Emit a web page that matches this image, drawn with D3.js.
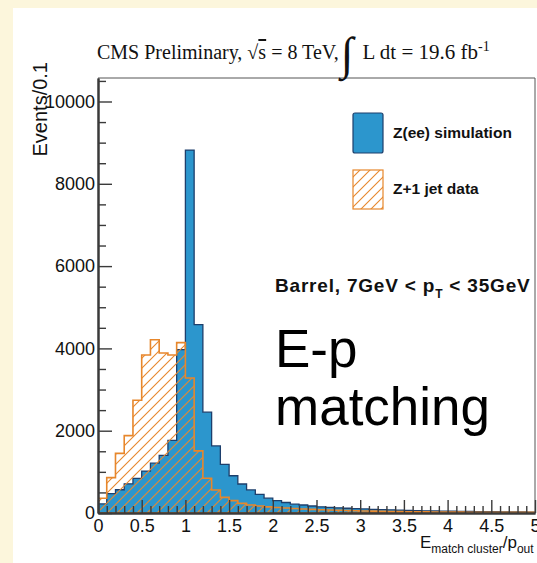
<!DOCTYPE html>
<html>
<head>
<meta charset="utf-8">
<script src="https://cdn.jsdelivr.net/npm/d3@7"></script>
<style>
  html, body { margin: 0; padding: 0; background: #fcf6dc; }
  svg { display: block; }
</style>
</head>
<body>
<svg id="chart" width="537" height="563"></svg>
<script>
// Histogram binning: 50 bins of width 0.1 from 0 to 5
const binEdges = d3.range(0, 51).map(i => +(i * 0.1).toFixed(1));

// Z(ee) simulation, events per bin
const simValues = [
  220, 470, 565, 710, 840, 1020, 1210, 1400, 1765, 3970,
  8820, 4580, 2450, 1630, 1180, 905, 705, 560, 455, 360,
  300, 255, 215, 195, 170, 150, 138, 125, 115, 105,
  98, 90, 82, 76, 70, 64, 58, 54, 50, 46,
  42, 39, 36, 34, 32, 30, 28, 26, 24, 23
];

// Z+1 jet data, events per bin
const dataValues = [
  360, 860, 1450, 1880, 2740, 3840, 4210, 3890, 3840, 4140,
  3280, 1510, 845, 560, 380, 300, 235, 195, 170, 150,
  135, 120, 108, 97, 88, 80, 72, 66, 60, 55,
  50, 46, 42, 38, 35, 32, 30, 28, 26, 24,
  22, 21, 20, 19, 18, 17, 16, 15, 15, 14
];

const xMajorTicks = [0, 0.5, 1, 1.5, 2, 2.5, 3, 3.5, 4, 4.5, 5];
const xTickLabels = ["0", "0.5", "1", "1.5", "2", "2.5", "3", "3.5", "4", "4.5", "5"];
const yMajorTicks = [0, 2000, 4000, 6000, 8000, 10000];
const yTickLabels = ["0", "2000", "4000", "6000", "8000", "10000"];
const seriesNames = ["Z(ee) simulation", "Z+1 jet data"];

const blue = "#2c96cd", blueEdge = "#1d3f6c";
const orange = "#e7872c";

const svg = d3.select("#chart");

// white canvas panel
svg.append("rect").attr("x", 13).attr("y", 8).attr("width", 537).attr("height", 563).attr("fill", "#fff");

const x = d3.scaleLinear().domain([0, 5]).range([98, 535]);
const y = d3.scaleLinear().domain([0, 10571]).range([513, 78]);

// hatch pattern for the data histogram
const defs = svg.append("defs");
const pat = defs.append("pattern").attr("id", "hatch")
  .attr("patternUnits", "userSpaceOnUse").attr("width", 10).attr("height", 10);
pat.append("path").attr("d", "M-1,11 L11,-1 M-1,1 L1,-1 M9,11 L11,9")
  .attr("stroke", orange).attr("stroke-width", 1.1).attr("fill", "none");

defs.append("clipPath").attr("id", "plotclip").append("rect")
  .attr("x", x(0)).attr("y", y.range()[1]).attr("width", x(5) - x(0)).attr("height", y(0) - y.range()[1]);

function binsOf(vals) {
  const pts = vals.map((v, i) => ({ x0: binEdges[i], v }));
  pts.push({ x0: binEdges[binEdges.length - 1], v: vals[vals.length - 1] });
  return pts;
}

const area = d3.area().curve(d3.curveStepAfter)
  .x(d => x(d.x0)).y0(y(0)).y1(d => y(d.v));

const plot = svg.append("g").attr("clip-path", "url(#plotclip)");

plot.append("path").datum(binsOf(simValues))
  .attr("d", area).attr("fill", blue)
  .attr("stroke", blueEdge).attr("stroke-width", 1.3).attr("stroke-linejoin", "miter");

plot.append("path").datum(binsOf(dataValues))
  .attr("d", area).attr("fill", "url(#hatch)")
  .attr("stroke", orange).attr("stroke-width", 1.6).attr("stroke-linejoin", "miter");

// frame
svg.append("path")
  .attr("d", `M${x(0)},${y.range()[1]} H${x(5)} V${y(0)}`)
  .attr("fill", "none").attr("stroke", "#555").attr("stroke-width", 1);

const axisColor = "#3a3a3a";
const fontSans = "'Liberation Sans', Arial, Helvetica, sans-serif";

function styleAxis(g) {
  g.select(".domain").attr("stroke", axisColor).attr("stroke-width", 2);
  g.selectAll(".tick line").attr("stroke", axisColor).attr("stroke-width", 1.4);
  g.selectAll(".tick text").attr("fill", "#111").attr("font-family", fontSans).attr("font-size", 18);
}

// y axis: major + minor ticks pointing inwards
const yMinor = d3.range(0, 10600, 500).filter(v => v % 2000 !== 0);
svg.append("g").attr("transform", `translate(${x(0)},0)`)
  .call(d3.axisLeft(y).tickValues(yMinor).tickSizeInner(-8).tickSizeOuter(0).tickFormat(""))
  .call(styleAxis);
svg.append("g").attr("transform", `translate(${x(0)},0)`)
  .call(d3.axisLeft(y).tickValues(yMajorTicks).tickSizeInner(-14).tickSizeOuter(0).tickPadding(3)
    .tickFormat((d, i) => yTickLabels[i]))
  .call(styleAxis);

// x axis
const xMinor = binEdges.filter(v => Math.round(v * 10) % 5 !== 0);
svg.append("g").attr("transform", `translate(0,${y(0)})`)
  .call(d3.axisBottom(x).tickValues(xMinor).tickSizeInner(-7).tickSizeOuter(0).tickFormat(""))
  .call(styleAxis);
svg.append("g").attr("transform", `translate(0,${y(0)})`)
  .call(d3.axisBottom(x).tickValues(xMajorTicks).tickSizeInner(-13).tickSizeOuter(0).tickPadding(6)
    .tickFormat((d, i) => xTickLabels[i]))
  .call(styleAxis);

// axis titles
svg.append("text")
  .attr("transform", "translate(47,62) rotate(-90)")
  .attr("text-anchor", "end")
  .attr("font-family", fontSans).attr("font-size", 20).attr("fill", "#111")
  .text("Events/0.1");

const xt = svg.append("text")
  .attr("x", 420).attr("y", 548)
  .attr("font-family", fontSans).attr("font-size", 17).attr("fill", "#111");
xt.append("tspan").text("E");
xt.append("tspan").attr("font-size", 12).attr("dy", 5).text("match cluster");
xt.append("tspan").attr("dy", -5).text("/p");
xt.append("tspan").attr("font-size", 12).attr("dy", 5).text("out");

// header
const title = svg.append("text")
  .attr("x", 97).attr("y", 59)
  .attr("font-family", "'Liberation Serif', 'Times New Roman', serif").attr("font-size", 20).attr("fill", "#111");
title.append("tspan").text("CMS Preliminary, \u221A");
title.append("tspan").attr("text-decoration", "overline").text("s");
title.append("tspan").text(" = 8 TeV,");
title.append("tspan").attr("font-size", 46).attr("dy", 10).attr("dx", 2).text("\u222B");
title.append("tspan").attr("dy", -10).attr("dx", 4).attr("font-size", 21).text(" L dt = 19.6 fb");
title.append("tspan").attr("font-size", 14).attr("dy", -8).text("-1");

// legend
const legend = svg.append("g");
legend.append("rect").attr("x", 353).attr("y", 113).attr("width", 30).attr("height", 40).attr("rx", 2)
  .attr("fill", blue).attr("stroke", blueEdge).attr("stroke-width", 1.2);
legend.append("rect").attr("x", 353).attr("y", 170).attr("width", 30).attr("height", 39)
  .attr("fill", "url(#hatch)").attr("stroke", orange).attr("stroke-width", 1.2);
legend.selectAll("text.leg").data(seriesNames).join("text").attr("class", "leg")
  .attr("x", 393).attr("y", (d, i) => i === 0 ? 138 : 194)
  .attr("font-family", fontSans).attr("font-weight", "bold").attr("font-size", 15.5).attr("fill", "#111")
  .text(d => d);

// selection label
const sel = svg.append("text")
  .attr("x", 275).attr("y", 292)
  .attr("font-family", fontSans).attr("font-weight", "bold").attr("font-size", 19)
  .attr("letter-spacing", 0.8).attr("fill", "#111");
sel.append("tspan").text("Barrel, 7GeV < p");
sel.append("tspan").attr("font-size", 12).attr("dy", 6).text("T");
sel.append("tspan").attr("dy", -6).text(" < 35GeV");

// big annotation
svg.append("text").attr("x", 275).attr("y", 367)
  .attr("font-family", fontSans).attr("font-size", 53).attr("fill", "#000").text("E-p");
svg.append("text").attr("x", 275).attr("y", 425)
  .attr("font-family", fontSans).attr("font-size", 53).attr("fill", "#000").text("matching");
</script>
</body>
</html>
